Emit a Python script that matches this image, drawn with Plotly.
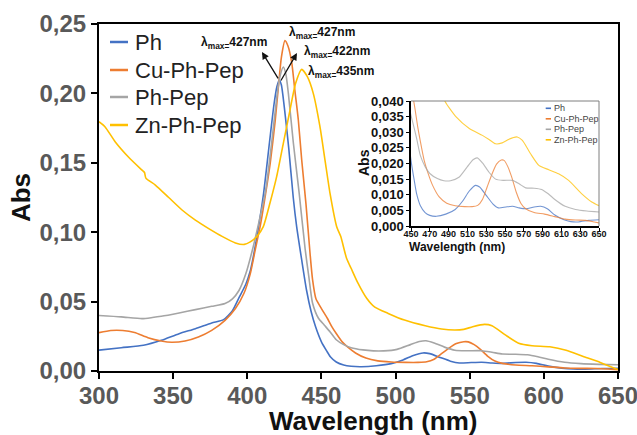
import plotly.graph_objects as go

# ---------------- data ----------------
ph_x = [300, 315, 330, 342, 354, 365, 376, 384, 390, 394.5, 399, 402, 404, 407, 411, 415, 418, 420,
        421.6, 423, 425.5, 428, 431, 433.3, 436.7, 440, 443, 446, 450, 453.5, 456, 460, 465, 470, 477,
        487, 497, 505, 512, 518.5, 523, 530, 537, 543, 551, 558, 565, 572, 581, 588, 595, 603, 612,
        620, 628, 639, 650]
ph_y = [0.015, 0.0168, 0.0185, 0.0221, 0.0269, 0.0305, 0.0346, 0.037, 0.0435, 0.053, 0.0625, 0.072,
        0.082, 0.100, 0.128, 0.165, 0.192, 0.205, 0.2097, 0.206, 0.185, 0.160, 0.125, 0.104, 0.080,
        0.058, 0.043, 0.032, 0.021, 0.0145, 0.0103, 0.0065, 0.0043, 0.0034, 0.0031, 0.0038, 0.0053,
        0.008, 0.0112, 0.0130, 0.0125, 0.0098, 0.0071, 0.0058, 0.0061, 0.0063, 0.0058, 0.0055, 0.0061,
        0.0063, 0.0055, 0.0035, 0.0021, 0.0014, 0.0013, 0.0018, 0.002]

cu_x = [300, 308, 316, 324, 333, 342, 349, 358, 367, 376, 385, 392, 397.7, 402, 405.5, 409, 412.4,
        415.5, 418.8, 421, 423, 425.4, 427.5, 430, 432, 434.4, 436.7, 439.6, 442.3, 444, 446.3, 450,
        454, 457, 460, 464, 468, 473, 480, 488, 497, 507, 515, 521, 526, 531, 536, 541, 546, 549, 553,
        557, 562, 567, 572, 581, 592, 603, 614, 625, 636, 645, 650]
cu_y = [0.0276, 0.0292, 0.0292, 0.0277, 0.024, 0.0216, 0.0207, 0.0216, 0.0245, 0.0293, 0.0365, 0.045,
        0.0558, 0.070, 0.088, 0.106, 0.128, 0.150, 0.180, 0.205, 0.226, 0.238, 0.234, 0.222, 0.203,
        0.181, 0.152, 0.120, 0.085, 0.066, 0.052, 0.045, 0.038, 0.032, 0.027, 0.021, 0.017, 0.013,
        0.0093, 0.0073, 0.0065, 0.0062, 0.0062, 0.0066, 0.0085, 0.0125, 0.0165, 0.0198, 0.0211,
        0.0210, 0.019, 0.0158, 0.0108, 0.0072, 0.0055, 0.0043, 0.0038, 0.0030, 0.0022, 0.0019, 0.0018,
        0.0013, 0.0010]

pep_x = [300, 315, 329, 336, 342, 354, 365, 376, 385, 390, 394.4, 399, 403.4, 408, 412.4, 416.5, 420,
         422, 424.3, 426, 427.7, 431, 435, 439, 441.5, 444, 448, 452, 456, 460, 465, 470, 478, 485, 492,
         501, 510, 516, 520.5, 526, 533, 540, 548, 558, 565, 572, 581, 589, 596, 603, 614, 625, 637, 650]
pep_y = [0.040, 0.039, 0.0377, 0.0385, 0.0394, 0.0418, 0.0442, 0.0466, 0.0486, 0.052, 0.058, 0.070,
         0.087, 0.108, 0.130, 0.165, 0.198, 0.212, 0.219, 0.214, 0.200, 0.165, 0.128, 0.088, 0.068,
         0.049, 0.038, 0.033, 0.028, 0.0225, 0.019, 0.0168, 0.0152, 0.0145, 0.0145, 0.0156, 0.019,
         0.0212, 0.0218, 0.0202, 0.0172, 0.015, 0.0146, 0.0146, 0.0135, 0.0122, 0.0121, 0.0117, 0.0103,
         0.0085, 0.0063, 0.0053, 0.0048, 0.0045]

zn_x = [300, 304, 311, 320, 329, 330.7, 331.6, 338, 347, 356, 365, 374, 383, 392, 398, 402, 406.4,
        410.8, 415.3, 419.8, 424.3, 428.8, 432.5, 436.7, 440.5, 444.5, 449, 452.4, 455.8, 460.3, 463,
        467, 470, 474.3, 480.5, 486, 495, 506, 520, 531, 540, 546, 552, 560, 565, 574, 583, 592, 604,
        615, 627, 638, 650]
zn_y = [0.1796, 0.176, 0.165, 0.154, 0.1447, 0.143, 0.139, 0.134, 0.125, 0.116, 0.1087, 0.1026, 0.097,
        0.0923, 0.0912, 0.093, 0.0968, 0.104, 0.121, 0.140, 0.164, 0.188, 0.207, 0.2173, 0.212, 0.200,
        0.176, 0.152, 0.128, 0.104, 0.097, 0.081, 0.074, 0.064, 0.0524, 0.046, 0.0415, 0.0367, 0.0326,
        0.0302, 0.0295, 0.030, 0.0319, 0.0336, 0.0326, 0.026, 0.020, 0.0182, 0.0175, 0.015, 0.0103,
        0.0062, 0.001]

# inset Zn-Ph-Pep trace (drawn at a different level in the inset)
zn_inset_x = [450, 465, 476, 481, 486, 498, 512, 526, 533, 540, 547, 553, 558, 563, 568.5, 577, 586,
              596.6, 607, 617.7, 631.7, 642.3, 650]
zn_inset_y = [0.090, 0.070, 0.050, 0.045, 0.040, 0.0349, 0.0312, 0.029, 0.0277, 0.0263, 0.0266,
              0.0276, 0.0282, 0.0285, 0.0274, 0.0232, 0.0194, 0.018, 0.0167, 0.0146, 0.0103, 0.0077,
              0.0065]

names = ["Ph", "Cu-Ph-Pep", "Ph-Pep", "Zn-Ph-Pep"]
colors = ["#4472C4", "#ED7D31", "#A5A5A5", "#FFC000"]

x_ticks = [300, 350, 400, 450, 500, 550, 600, 650]
y_ticks = [0, 0.05, 0.10, 0.15, 0.20, 0.25]

peak_labels = ["427nm", "427nm", "422nm", "435nm"]
peak_label_pos = [(391.0, 0.2363), (450.4, 0.2435), (460.8, 0.2298), (463.5, 0.2154)]
arrows = [((409.9, 0.2298), (421.4, 0.2097)), ((433.5, 0.2291), (422.1, 0.2082))]

FONT = "Liberation Sans, Arial, sans-serif"

fig = go.Figure()
series = [(ph_x, ph_y), (cu_x, cu_y), (pep_x, pep_y), (zn_x, zn_y)]
for (xs, ys), n, c in zip(series, names, colors):
    fig.add_trace(go.Scatter(x=xs, y=ys, mode="lines", name=n, showlegend=False,
                             line=dict(color=c, width=1.6, shape="spline", smoothing=0.6),
                             xaxis="x", yaxis="y"))

inset_series = [(ph_x, ph_y), (cu_x, cu_y), (pep_x, pep_y), (zn_inset_x, zn_inset_y)]
for (xs, ys), n, c in zip(inset_series, names, colors):
    fig.add_trace(go.Scatter(x=xs, y=ys, mode="lines", name=n, showlegend=False, opacity=0.75,
                             line=dict(color=c, width=1.1, shape="spline", smoothing=0.6),
                             xaxis="x2", yaxis="y2"))

annotations = []
shapes = []

# main legend (manual)
leg_y_px = [42, 70, 97, 125]
for n, c, py in zip(names, colors, leg_y_px):
    yp = (371 - py) / 347
    shapes.append(dict(type="line", xref="paper", yref="paper", x0=11 / 519, x1=29 / 519, y0=yp, y1=yp,
                       line=dict(color=c, width=2.5)))
    annotations.append(dict(xref="paper", yref="paper", x=34 / 519, y=yp, text=n, showarrow=False,
                            xanchor="left", yanchor="middle", font=dict(size=22, color="#222", family=FONT)))

# inset legend (manual)
ileg_y_px = [108.3, 118.8, 129.3, 139.8]
for n, c, py in zip(names, colors, ileg_y_px):
    yp = (371 - py) / 347
    shapes.append(dict(type="line", xref="paper", yref="paper", x0=(545.7 - 99) / 519, x1=(551 - 99) / 519,
                       y0=yp, y1=yp, line=dict(color=c, width=1.6)))
    annotations.append(dict(xref="paper", yref="paper", x=(552 - 99) / 519, y=yp, text=n, showarrow=False,
                            xanchor="left", yanchor="middle", font=dict(size=9, color="#444", family=FONT)))

# inset frame top/right (gray)
shapes.append(dict(type="line", xref="x2 domain", yref="y2 domain", x0=0, x1=1, y0=1, y1=1,
                   line=dict(color="#7f7f7f", width=1)))
shapes.append(dict(type="line", xref="x2 domain", yref="y2 domain", x0=1, x1=1, y0=0, y1=1,
                   line=dict(color="#7f7f7f", width=1)))

# lambda max labels
for lab, (lx, ly) in zip(peak_labels, peak_label_pos):
    annotations.append(dict(x=lx, y=ly, xref="x", yref="y", showarrow=False,
                            text="<b>λ<sub>max=</sub>" + lab + "</b>",
                            font=dict(size=12, color="#111", family=FONT)))
for (hx, hy), (tx, ty) in arrows:
    annotations.append(dict(x=hx, y=hy, ax=tx, ay=ty, xref="x", yref="y", axref="x", ayref="y",
                            text="", showarrow=True, arrowhead=2, arrowsize=1.1, arrowwidth=1.3,
                            arrowcolor="#111"))

# main x-axis title
annotations.append(dict(xref="paper", yref="paper", x=0.527, y=(371 - 421) / 347,
                        text="<b>Wavelength (nm)</b>", showarrow=False, yanchor="middle",
                        font=dict(size=26, color="#111", family=FONT)))

# inset axis titles
annotations.append(dict(xref="paper", yref="paper", x=(506.7 - 99) / 519, y=(371 - 247) / 347,
                        text="<b>Wavelength (nm)</b>", showarrow=False,
                        font=dict(size=12, color="#111", family=FONT)))
annotations.append(dict(xref="paper", yref="paper", x=(364 - 99) / 519, y=(371 - 163) / 347,
                        text="<b>Abs</b>", showarrow=False, textangle=-90,
                        font=dict(size=14, color="#111", family=FONT)))

fig.update_layout(
    width=637, height=435, autosize=False,
    margin=dict(l=99, r=19, t=24, b=64),
    paper_bgcolor="white", plot_bgcolor="white",
    separators=", ",
    font=dict(family=FONT),
    showlegend=False,
    xaxis=dict(domain=[0, 1], range=[300, 650], tickvals=x_ticks, ticks="outside", ticklen=6, tickwidth=2,
               tickcolor="black", showline=True, linecolor="black", linewidth=2, mirror=True,
               showgrid=False, zeroline=False, automargin=False, ticklabeloverflow="allow",
               ticklabelstandoff=-4,
               tickfont=dict(size=24, color="#595959", family=FONT, weight="bold")),
    yaxis=dict(domain=[0, 1], range=[0, 0.25], tickvals=y_ticks, tickformat=".2f", ticks="outside",
               ticklen=6, tickwidth=2, tickcolor="black", showline=True, linecolor="black", linewidth=2,
               mirror=True, showgrid=False, zeroline=False, automargin=False,
               tickfont=dict(size=24, color="#595959", family=FONT, weight="bold"),
               title=dict(text="<b>Abs</b>", standoff=1, font=dict(size=26, color="#111", family=FONT))),
    xaxis2=dict(domain=[(411 - 99) / 519, (599 - 99) / 519], anchor="y2", range=[450, 650], tick0=450,
                dtick=20, ticks="outside", ticklen=3, tickwidth=1, tickcolor="black", showline=True,
                linecolor="black", linewidth=1.5, showgrid=False, zeroline=False, automargin=False,
                ticklabelstandoff=-5,
                tickfont=dict(size=9, color="#111", family=FONT, weight="bold")),
    yaxis2=dict(domain=[(371 - 226) / 347, (371 - 101) / 347], anchor="x2", range=[0, 0.04], dtick=0.005,
                tickformat=".3f", ticks="outside", ticklen=3, tickwidth=1, tickcolor="black", showline=True,
                linecolor="black", linewidth=1.5, showgrid=False, zeroline=False, automargin=False,
                tickfont=dict(size=13, color="#111", family=FONT, weight="bold")),
    annotations=annotations,
    shapes=shapes,
)

fig.write_html("out.html")
